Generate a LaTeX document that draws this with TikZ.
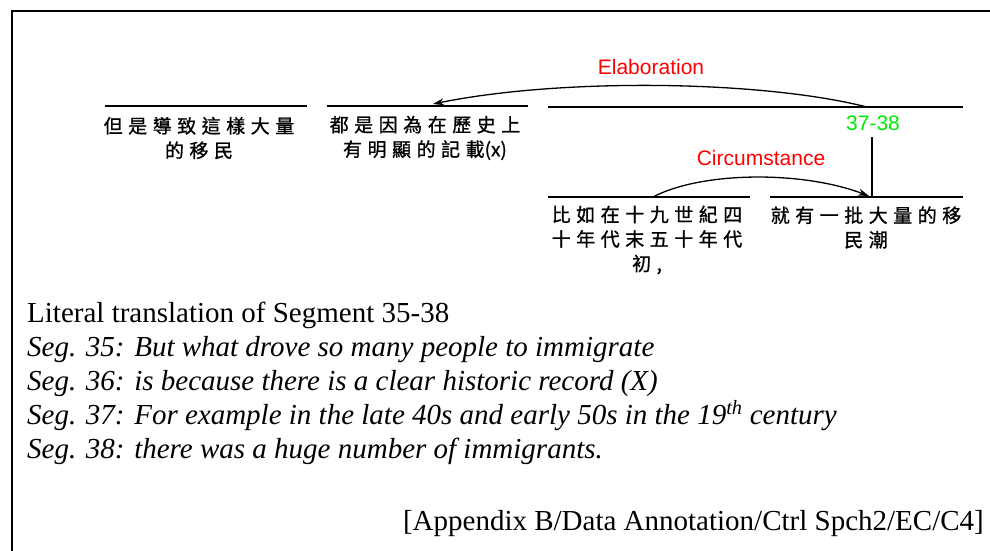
\documentclass[tikz,border=0pt]{standalone}
\usepackage{fontspec}
\setmainfont{Liberation Serif}
\newfontfamily\lblfont{Liberation Sans}
\newfontfamily\cjkfont[LetterSpace=29,FakeBold=1]{Noto Sans CJK TC}
\newfontfamily\cjkplain[FakeBold=1]{Noto Sans CJK TC}
\usetikzlibrary{arrows.meta}
\definecolor{relred}{RGB}{255,0,0}
\definecolor{spangreen}{RGB}{0,235,0}
\tikzset{
  seg/.style={line width=2pt},
  frameline/.style={line width=2pt},
  cjktext/.style={font=\fontsize{19}{24.5}\selectfont\cjkfont, align=center, inner sep=0pt},
  rellabel/.style={font=\fontsize{21}{25}\selectfont\lblfont, text=relred, inner sep=0pt},
  spanlabel/.style={font=\fontsize{21}{25}\selectfont\lblfont, text=spangreen, inner sep=0pt},
  relarc/.style={line width=1.3pt, -{Stealth[length=11pt,width=7pt]}},
  transl/.style={font=\fontsize{29}{34}\selectfont, anchor=base west, inner sep=0pt},
}
\begin{document}
\begin{tikzpicture}[x=1pt,y=-1pt]
\useasboundingbox (0,0) rectangle (990,550);
\clip (0,0) rectangle (990,550);
\draw[frameline] (12,11) rectangle (1000,560);

% segment lines
\coordinate (s35l) at (105,106); \coordinate (s35r) at (307,106);
\coordinate (s36l) at (327,106); \coordinate (s36r) at (528,106);
\coordinate (spanl) at (548,107); \coordinate (spanr) at (963,107);
\coordinate (s37l) at (548,197); \coordinate (s37r) at (750,197);
\coordinate (s38l) at (770,197); \coordinate (s38r) at (963,197);
\draw[seg] (s35l) -- (s35r);
\draw[seg] (s36l) -- (s36r);
\draw[seg] (spanl) -- (spanr);
\draw[seg] (s37l) -- (s37r);
\draw[seg] (s38l) -- (s38r);

% segment texts
\node[cjktext] (t35) at (199,138) {但是導致這樣大量\\的移民};
\node[cjktext] (t36) at (425,138) {都是因為在歷史上\\有明顯的記載{\cjkplain(x)}};
\node[cjktext] (t37) at (647,240) {比如在十九世紀四\\十年代末五十年代\\初,};
\node[cjktext] (t38) at (866,227.5) {就有一批大量的移\\民潮};

% relation labels
\node[rellabel] (elab) at (651,67) {Elaboration};
\node[rellabel] (circ) at (761,158) {Circumstance};
\node[spanlabel] (span) at (873,123) {37-38};

% nucleus line
\coordinate (nuctop) at (872,137);
\coordinate (nucbot) at (872,197);
\draw[seg] (nuctop) -- (nucbot);

% relation arcs
\coordinate (elabtail) at (867,107);
\coordinate (elabhead) at (433,104);
\draw[relarc] (elabtail) .. controls (760,80) and (560,78) .. (elabhead);
\coordinate (circtail) at (653,197);
\coordinate (circhead) at (869,196);
\draw[relarc] (circtail) .. controls (700,172) and (800,170) .. (circhead);

% translation
\node[transl] (lt) at (27,322) {Literal translation of Segment 35-38};
\node[transl] (g35) at (27,356) {\itshape Seg. 35: But what drove so many people to immigrate};
\node[transl] (g36) at (27,390) {\itshape Seg. 36: is because there is a clear historic record (X)};
\node[transl] (g37) at (27,424) {\itshape Seg. 37: For example in the late 40s and early 50s in the 19\textsuperscript{th} century};
\node[transl] (g38) at (27,458) {\itshape Seg. 38: there was a huge number of immigrants.};
\node[transl, anchor=base east] (src) at (984,530) {[Appendix B/Data Annotation/Ctrl Spch2/EC/C4]};
\end{tikzpicture}
\end{document}
